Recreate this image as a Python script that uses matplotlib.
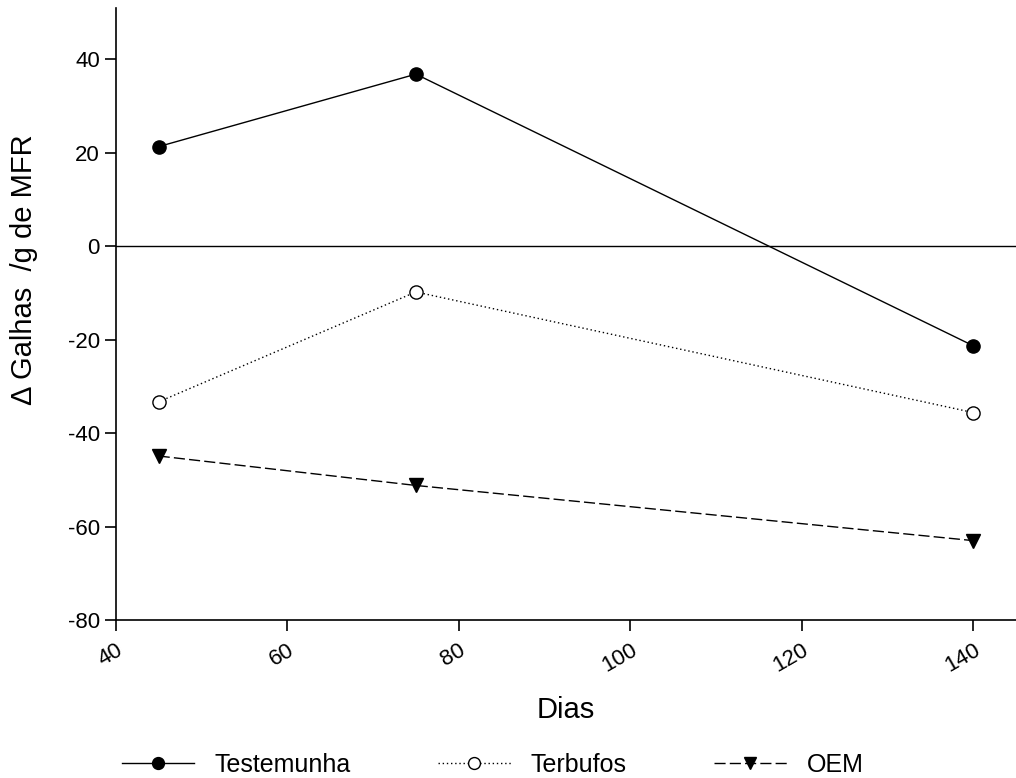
import numpy as np
import matplotlib.pyplot as plt

plt.rcParams['font.family'] = ['Liberation Sans', 'DejaVu Sans']
plt.rcParams['axes.unicode_minus'] = False

dias = [45, 75, 140]
testemunha = [21.3, 36.8, -21.3]
terbufos = [-33.3, -9.8, -35.6]
oem = [-44.9, -51.2, -63.0]
xticks = [40, 60, 80, 100, 120, 140]
yticks = [-80, -60, -40, -20, 0, 20, 40]

fig = plt.figure(figsize=(10.16, 7.78), dpi=100)
ax = fig.add_axes([0.114, 0.203, 0.886, 0.787])

ax.plot(dias, testemunha, color='black', lw=1.0, marker='o', ms=9.5,
        label='Testemunha')
ax.plot(dias, terbufos, color='black', lw=1.0, ls=(0, (1, 2)), marker='o',
        ms=9.5, mfc='white', mec='black', label='Terbufos')
ax.plot(dias, oem, color='black', lw=1.0, ls=(0, (8, 3)), marker='v',
        ms=10, label='OEM')
ax.axhline(0, color='black', lw=1.0)

ax.set_xlim(40, 145)
ax.set_ylim(-80, 51)
ax.set_xticks(xticks)
ax.set_yticks(yticks)
ax.spines['top'].set_visible(False)
ax.spines['right'].set_visible(False)
ax.spines['left'].set_linewidth(1.2)
ax.spines['bottom'].set_linewidth(1.2)
ax.tick_params(direction='out', length=8, width=1.2, labelsize=16)
ax.tick_params(axis='x', pad=6)
for lab in ax.get_xticklabels():
    lab.set_rotation(30)
    lab.set_ha('right')
    lab.set_rotation_mode('anchor')

ax.set_xlabel('Dias', fontsize=21, labelpad=14)
ax.set_ylabel('Δ Galhas  /g de MFR', fontsize=21)
ax.yaxis.set_label_coords(-0.086, 0.572)

fig.legend(loc='center', bbox_to_anchor=(0.485, 0.017), ncol=3, frameon=False,
           fontsize=18, handlelength=2.9, columnspacing=3.5, handletextpad=0.8,
           markerscale=0.9)

fig.savefig('out.png', dpi=100)
